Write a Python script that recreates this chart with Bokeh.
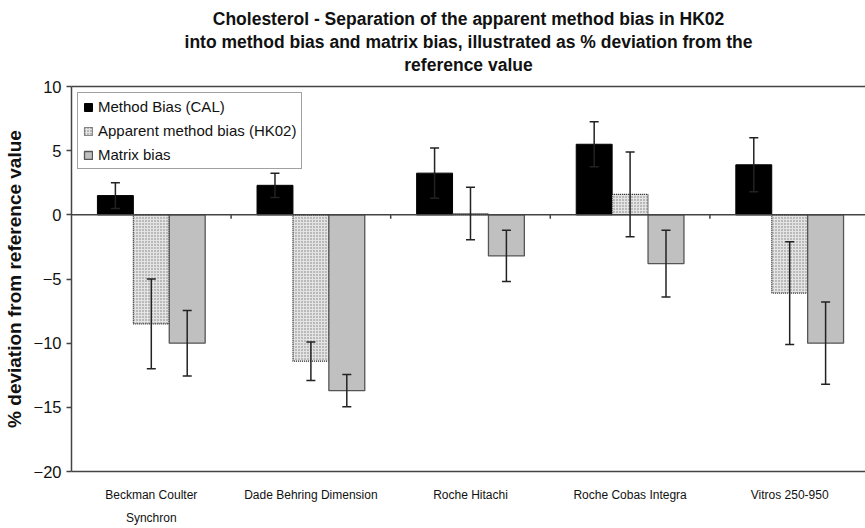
from bokeh.plotting import figure
from bokeh.models import (ColumnDataSource, Range1d, FixedTicker, Span, Whisker,
                          TeeHead, Title, LinearAxis)
from bokeh.embed import file_html
from bokeh.resources import INLINE

# ---------------- data ----------------
categories = ["Beckman Coulter\nSynchron", "Dade Behring Dimension", "Roche Hitachi",
              "Roche Cobas Integra", "Vitros 250-950"]
series_names = ["Method Bias (CAL)", "Apparent method bias (HK02)", "Matrix bias"]
method_bias = [1.5, 2.3, 3.25, 5.5, 3.9]
method_err = [1.0, 0.95, 1.95, 1.75, 2.1]
apparent_bias = [-8.5, -11.4, 0.1, 1.6, -6.1]
apparent_err = [3.5, 1.5, 2.05, 3.3, 4.0]
matrix_bias = [-10.0, -13.7, -3.2, -3.8, -10.0]
matrix_err = [2.55, 1.25, 2.0, 2.6, 3.2]
y_ticks = [-20, -15, -10, -5, 0, 5, 10]
title_lines = ["Cholesterol - Separation of the apparent method bias in HK02",
               "into method bias and matrix bias, illustrated as % deviation from the",
               "reference value"]
y_label = "% deviation from reference value"

# ---------------- figure ----------------
n = len(categories)
bar_w = 0.225
offsets = [-bar_w, 0.0, bar_w]
centers = [i + 0.5 for i in range(n)]

p = figure(width=865, height=528, output_backend="svg", toolbar_location=None,
           x_range=Range1d(0, 4.975), y_range=Range1d(-20, 10),
           min_border_left=70, min_border_right=0, min_border_bottom=50,
           min_border_top=86, background_fill_color="white",
           border_fill_color="white")
p.title = None
p.outline_line_color = None
p.xgrid.visible = False
p.ygrid.visible = False

axis_col = "#444444"
sans = "Liberation Sans"

# top frame line (an empty axis)
top_axis = LinearAxis(ticker=FixedTicker(ticks=[]), axis_line_color=axis_col,
                      axis_line_width=1.5, major_tick_line_color=None,
                      minor_tick_line_color=None, major_label_text_font_size="0px",
                      major_tick_out=0, major_tick_in=0, major_label_standoff=0)
p.add_layout(top_axis, "above")

# spacer between frame and title block
p.add_layout(Title(text=" ", text_font_size="9px", standoff=0), "above")

# titles (added from bottom to top)
standoffs = [2, 1, 0]
for line, so in reversed(list(zip(title_lines, standoffs))):
    t = Title(text=line, align="center", text_font=sans, text_font_size="17.5px",
              text_font_style="bold", text_color="#111111", standoff=so)
    p.add_layout(t, "above")

# zero line
p.add_layout(Span(location=0, dimension="width", line_color=axis_col, line_width=1.5))
bounds = list(range(1, n))
p.segment(x0=bounds, y0=[0] * len(bounds), x1=bounds, y1=[-0.3] * len(bounds),
          line_color=axis_col, line_width=1.5)

values = [method_bias, apparent_bias, matrix_bias]
errors = [method_err, apparent_err, matrix_err]
styles = [
    dict(fill_color="black", line_color="black", line_width=1),
    dict(fill_color="#e4e4e4", line_color="#222222", line_width=1.2, line_dash="1 1",
         hatch_pattern="dot", hatch_color="#777777", hatch_scale=3, hatch_weight=1.8),
    dict(fill_color="#c0c0c0", line_color="#555555", line_width=1.3),
]

for k in range(3):
    xs = [c + offsets[k] for c in centers]
    src = ColumnDataSource(dict(x=xs, top=values[k],
                                upper=[v + e for v, e in zip(values[k], errors[k])],
                                lower=[v - e for v, e in zip(values[k], errors[k])]))
    p.vbar(x="x", top="top", bottom=0, width=bar_w, source=src,
           legend_label=series_names[k], **styles[k])
    w = Whisker(source=src, base="x", upper="upper", lower="lower", level="overlay",
                line_color="#222222", line_width=1.5,
                upper_head=TeeHead(size=9, line_color="#222222", line_width=1.5),
                lower_head=TeeHead(size=9, line_color="#222222", line_width=1.5))
    p.add_layout(w)

# y axis
yax = p.left[0]
yax.ticker = FixedTicker(ticks=y_ticks)
yax.axis_line_color = axis_col
yax.axis_line_width = 1.5
yax.major_tick_line_color = axis_col
yax.major_tick_line_width = 1.5
yax.major_tick_out = 5
yax.major_tick_in = 0
yax.minor_tick_line_color = None
yax.major_label_text_font = sans
yax.major_label_text_font_size = "16.5px"
yax.major_label_text_color = "#111111"
yax.major_label_standoff = 5
yax.axis_label = y_label
yax.axis_label_text_font = sans
yax.axis_label_text_font_size = "19px"
yax.axis_label_text_font_style = "bold"
yax.axis_label_text_color = "#111111"
yax.axis_label_standoff = 6

# x axis
xax = p.below[0]
xax.ticker = FixedTicker(ticks=centers)
xax.major_label_overrides = {c: lab for c, lab in zip(centers, categories)}
xax.axis_line_color = axis_col
xax.axis_line_width = 1.5
xax.major_tick_line_color = None
xax.minor_tick_line_color = None
xax.major_label_text_font = sans
xax.major_label_text_font_size = "12px"
xax.major_label_text_color = "#111111"
xax.major_label_text_line_height = 1.7
xax.major_label_standoff = 10

# legend
lg = p.legend[0]
lg.location = "top_left"
lg.margin = 6
lg.border_line_color = axis_col
lg.border_line_width = 1.5
lg.background_fill_color = "white"
lg.background_fill_alpha = 1
lg.label_text_font = sans
lg.label_text_font_size = "15px"
lg.label_text_color = "#111111"
lg.glyph_width = 10
lg.glyph_height = 10
lg.label_height = 16
lg.label_standoff = 5
lg.spacing = 7
lg.padding = 5

open("out.html", "w").write(file_html(p, INLINE))
